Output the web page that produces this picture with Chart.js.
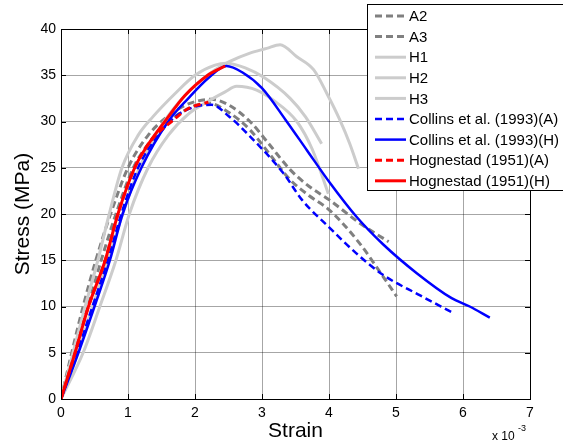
<!DOCTYPE html>
<html>
<head>
<meta charset="utf-8">
<script src="https://cdn.jsdelivr.net/npm/chart.js@4"></script>
<style>
  html, body { margin: 0; padding: 0; background: #fff; }
  #wrap { width: 563px; height: 448px; }
</style>
</head>
<body>
<div id="wrap"><canvas id="chart1" width="563" height="448"></canvas></div>
<script>
// strain in units of 1e-3, stress in MPa
var xTicks = [0, 1, 2, 3, 4, 5, 6, 7]
var yTicks = [0, 5, 10, 15, 20, 25, 30, 35, 40]

var a2_x = [0, 0.16, 0.33, 0.52, 0.74, 1.0, 1.3, 1.6, 1.9, 2.25, 2.5, 2.82, 3.1, 3.42, 3.7, 4.01, 4.46, 4.89]
var a2_y = [0, 5, 10, 15, 20, 25, 28.5, 30.6, 31.9, 32.4, 31.8, 30.0, 27.6, 24.8, 23.0, 21.5, 19.0, 17.0]
var a3_x = [0, 0.2, 0.4, 0.6, 0.82, 1.08, 1.35, 1.7, 2.0, 2.2, 2.5, 2.82, 3.1, 3.42, 3.7, 4.01, 4.46, 4.81, 5.01]
var a3_y = [0, 5, 10, 15, 20, 25, 28, 30.5, 31.7, 32.0, 31.0, 29.1, 26.6, 23.7, 22.0, 20.4, 16.8, 13.2, 11.1]

var h1_x = [0, 0.25, 0.47, 0.7, 0.92, 1.17, 1.45, 1.75, 2.05, 2.3, 2.52, 2.82, 3.07, 3.27, 3.52, 3.77, 3.97, 4.16, 4.31, 4.44]
var h1_y = [0, 5, 10, 15, 20, 25, 29, 32, 34.2, 35.6, 36.5, 37.4, 37.9, 38.3, 37.0, 35.6, 33.0, 30.2, 27.6, 24.9]
var h2_x = [0, 0.18, 0.36, 0.55, 0.72, 0.91, 1.15, 1.37, 1.7, 2.0, 2.3, 2.47, 2.75, 3.02, 3.42, 3.65, 3.89]
var h2_y = [0, 5, 10, 15, 20, 25, 28.5, 30.5, 33, 35, 36.1, 36.3, 35.8, 34.8, 32.5, 30.5, 27.6]
var h3_x = [0, 0.33, 0.58, 0.82, 1.02, 1.3, 1.6, 1.9, 2.2, 2.45, 2.62, 2.92, 3.17, 3.52, 3.75, 3.99]
var h3_y = [0, 5, 10, 15, 20, 25, 28.5, 30.8, 32.2, 33.2, 33.8, 33.4, 32.3, 30.0, 27.0, 22.2]

var collinsA_x = [0, 0.24, 0.47, 0.7, 0.9, 1.15, 1.45, 1.7, 2.0, 2.25, 2.5, 2.82, 3.32, 3.6, 4.01, 4.4, 4.81, 5.36, 5.83]
var collinsA_y = [0, 5, 10, 15, 20, 25, 28.5, 30.5, 31.6, 31.8, 30.6, 28.4, 24.4, 21.5, 18.5, 15.8, 13.4, 11.2, 9.4]
var collinsH_x = [0, 0.26, 0.5, 0.73, 0.92, 1.2, 1.6, 1.9, 2.2, 2.47, 2.71, 3.0, 3.35, 3.67, 4.01, 4.41, 4.81, 5.31, 5.83, 6.1, 6.4]
var collinsH_y = [0, 5, 10, 15, 20, 25, 30, 32.5, 34.7, 36.0, 35.3, 33.6, 30.2, 26.9, 23.4, 19.7, 16.7, 13.6, 10.9, 10.0, 8.8]

var hogA_x = [0, 0.21, 0.41, 0.66, 0.85, 1.1, 1.35, 1.65, 1.9, 2.2]
var hogA_y = [0, 5, 10, 15, 20, 25, 28, 30, 31.4, 32.1]
var hogH_x = [0, 0.21, 0.41, 0.66, 0.85, 1.1, 1.3, 1.55, 1.85, 2.19, 2.45]
var hogH_y = [0, 5, 10, 15, 20, 25, 27.5, 30, 32.8, 35, 36.0]

var labels = ["A2", "A3", "H1", "H2", "H3", "Collins et al. (1993)(A)", "Collins et al. (1993)(H)", "Hognestad (1951)(A)", "Hognestad (1951)(H)"]

function pts(xs, ys) {
    var out = []
    xs.forEach(function (x, i) { out.push({x: x, y: ys[i]}) })
    return out
}

var dark = '#808080'
var light = '#cccccc'
var dash = [7, 4]

function ds(i, xs, ys, color, width, dashed) {
    return {
        label: labels[i],
        data: pts(xs, ys),
        borderColor: color,
        backgroundColor: color,
        borderWidth: width,
        borderDash: dashed ? dash : [],
        showLine: true,
        pointRadius: 0,
        cubicInterpolationMode: 'monotone',
        order: 20 - i
    }
}

var datasets = [
    ds(0, a2_x, a2_y, dark, 3, true),
    ds(1, a3_x, a3_y, dark, 3, true),
    ds(2, h1_x, h1_y, light, 3, false),
    ds(3, h2_x, h2_y, light, 3, false),
    ds(4, h3_x, h3_y, light, 3, false),
    ds(5, collinsA_x, collinsA_y, '#0000ff', 2.5, true),
    ds(6, collinsH_x, collinsH_y, '#0000ff', 2.5, false),
    ds(7, hogA_x, hogA_y, '#ff0000', 3, true),
    ds(8, hogH_x, hogH_y, '#ff0000', 3, false)
]

var FONT = "'Liberation Sans', Arial, sans-serif"

var framePlugin = {
    id: 'frame',
    afterDraw: function (chart) {
        var ctx = chart.ctx
        var a = chart.chartArea
        var xs = chart.scales.x, ys = chart.scales.y
        ctx.save()
        // box and inward ticks
        ctx.strokeStyle = '#000'
        ctx.lineWidth = 1
        ctx.strokeRect(a.left + 0.5, a.top + 0.5, a.right - a.left, a.bottom - a.top)
        ctx.beginPath()
        xTicks.forEach(function (v) {
            var px = Math.round(xs.getPixelForValue(v)) + 0.5
            ctx.moveTo(px, a.bottom); ctx.lineTo(px, a.bottom - 5)
            ctx.moveTo(px, a.top); ctx.lineTo(px, a.top + 5)
        })
        yTicks.forEach(function (v) {
            var py = Math.round(ys.getPixelForValue(v)) + 0.5
            ctx.moveTo(a.left, py); ctx.lineTo(a.left + 5, py)
            ctx.moveTo(a.right, py); ctx.lineTo(a.right - 5, py)
        })
        ctx.stroke()

        // exponent label
        ctx.fillStyle = '#000'
        ctx.textBaseline = 'alphabetic'
        ctx.textAlign = 'left'
        ctx.font = '12px ' + FONT
        ctx.fillText('x 10', 492, 440)
        ctx.font = '9px ' + FONT
        ctx.fillText('-3', 518, 431)

        // legend
        var lx = 367.5, ly = 4.5, lh = 186
        ctx.fillStyle = '#fff'
        ctx.fillRect(lx, ly, 250, lh)
        ctx.strokeStyle = '#000'
        ctx.lineWidth = 1
        ctx.strokeRect(lx, ly, 250, lh)
        ctx.font = '15px ' + FONT
        ctx.textBaseline = 'middle'
        chart.data.datasets.forEach(function (d, i) {
            var ry = 16 + i * 20.6
            ctx.beginPath()
            ctx.strokeStyle = d.borderColor
            ctx.lineWidth = d.borderWidth
            ctx.setLineDash(d.borderDash)
            ctx.moveTo(375, ry)
            ctx.lineTo(406, ry)
            ctx.stroke()
            ctx.setLineDash([])
            ctx.fillStyle = '#000'
            ctx.fillText(d.label, 409, ry + 1)
        })
        ctx.restore()
    }
}

var ctx1 = document.getElementById('chart1')
new Chart(ctx1, {
    type: 'scatter',
    data: { datasets: datasets },
    options: {
        responsive: false,
        animation: false,
        layout: { padding: { left: 0, top: 29, right: 33, bottom: 0 } },
        scales: {
            x: {
                type: 'linear',
                min: 0,
                max: 7,
                afterFit: function (s) { s.height = 49 },
                afterBuildTicks: function (s) { s.ticks = xTicks.map(function (v) { return {value: v} }) },
                grid: { color: 'rgba(0,0,0,0.35)', drawTicks: false },
                border: { display: false },
                ticks: {
                    color: '#000',
                    padding: 6,
                    font: { family: FONT, size: 14 },
                    callback: function (v) { return v }
                },
                title: {
                    display: true,
                    text: 'Strain',
                    color: '#000',
                    font: { family: FONT, size: 21 },
                    padding: { top: 0, bottom: 4 }
                }
            },
            y: {
                type: 'linear',
                min: 0,
                max: 40,
                afterFit: function (s) { s.width = 61 },
                afterBuildTicks: function (s) { s.ticks = yTicks.map(function (v) { return {value: v} }) },
                grid: { color: 'rgba(0,0,0,0.35)', drawTicks: false },
                border: { display: false },
                ticks: {
                    color: '#000',
                    padding: 5,
                    font: { family: FONT, size: 14 },
                    callback: function (v) { return v }
                },
                title: {
                    display: true,
                    text: 'Stress (MPa)',
                    color: '#000',
                    font: { family: FONT, size: 21 },
                    padding: { top: 11, bottom: 0 }
                }
            }
        },
        plugins: {
            legend: { display: false },
            tooltip: { enabled: false }
        }
    },
    plugins: [framePlugin]
})
</script>
</body>
</html>
